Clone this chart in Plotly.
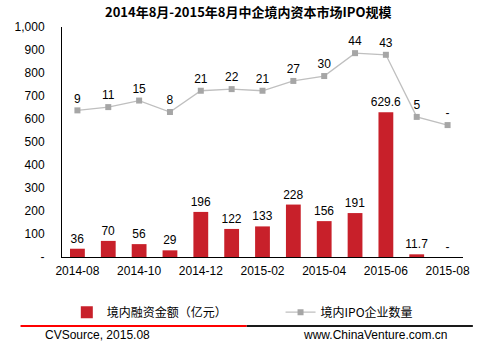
import plotly.graph_objects as go

months = ["2014-08", "2014-09", "2014-10", "2014-11", "2014-12", "2015-01", "2015-02",
          "2015-03", "2015-04", "2015-05", "2015-06", "2015-07", "2015-08"]
funding = [36, 70, 56, 29, 196, 122, 133, 228, 156, 191, 629.6, 11.7, 0]
funding_labels = ["36", "70", "56", "29", "196", "122", "133", "228", "156", "191", "629.6", "11.7", "-"]
ipo_count = [9, 11, 15, 8, 21, 22, 21, 27, 30, 44, 43, 5, 0]
ipo_labels = ["9", "11", "15", "8", "21", "22", "21", "27", "30", "44", "43", "5", "-"]
x_ticktext = ["2014-08", "", "2014-10", "", "2014-12", "", "2015-02", "", "2015-04", "",
              "2015-06", "", "2015-08"]
y_tickvals = [0, 100, 200, 300, 400, 500, 600, 700, 800, 900, 1000]
y_ticktext = ["-", "100", "200", "300", "400", "500", "600", "700", "800", "900", "1,000"]

FONT = "Liberation Sans, Arial, Noto Sans CJK SC, sans-serif"
CJK = "Noto Sans CJK SC, Liberation Sans, sans-serif"

fig = go.Figure()
fig.add_trace(go.Bar(
    x=months, y=funding, name="境内融资金额（亿元）",
    marker=dict(color="#C8202A", line=dict(width=0)),
    width=0.48, legend="legend",
    text=funding_labels, textposition="outside", cliponaxis=False, constraintext="none",
    textfont=dict(size=12, color="#000000", family=FONT),
))
fig.add_trace(go.Scatter(
    x=months, y=ipo_count, name="境内IPO企业数量", yaxis="y2", legend="legend2",
    mode="lines+markers+text",
    line=dict(color="#BFBFBF", width=1.3),
    marker=dict(symbol="square", size=6, color="#A6A6A6"),
    text=ipo_labels, textposition="top center", cliponaxis=False,
    textfont=dict(size=12, color="#000000", family=FONT),
))

legend_common = dict(orientation="h", y=-0.24, xanchor="left", yanchor="middle",
                     bgcolor="rgba(0,0,0,0)", font=dict(family=CJK, size=12), itemwidth=30)

fig.update_layout(
    width=482, height=348,
    margin=dict(l=62, r=14, t=27, b=91),
    paper_bgcolor="white", plot_bgcolor="white",
    font=dict(family=FONT, size=12, color="#000000"),
    title=dict(text="<b>2014年8月-2015年8月中企境内资本市场IPO规模</b>",
               x=0.515, xanchor="center", y=0.965, yanchor="middle",
               font=dict(family=CJK, size=13, color="#000000")),
    xaxis=dict(type="category", tickmode="array", tickvals=months, ticktext=x_ticktext,
               showline=True, linecolor="#000000", linewidth=1, showgrid=False,
               ticks="", tickfont=dict(size=12), range=[-0.5, 12.5], ticklabelstandoff=3),
    yaxis=dict(range=[0, 1000], tickmode="array", tickvals=y_tickvals, ticktext=y_ticktext,
               showline=True, linecolor="#000000", linewidth=1, showgrid=False,
               zeroline=False, ticks="", ticklabelstandoff=14, tickfont=dict(size=12)),
    yaxis2=dict(range=[-80.7, 60], overlaying="y", side="right", visible=False),
    legend=dict(x=0.012, **legend_common),
    legend2=dict(x=0.545, **legend_common),
    showlegend=True,
)

# footer rules and source notes
fig.add_shape(type="line", xref="paper", yref="paper", x0=-0.1034, x1=0.4606, y0=-0.30, y1=-0.30,
              line=dict(color="#FF0000", width=2))
fig.add_shape(type="line", xref="paper", yref="paper", x0=0.4606, x1=1.0246, y0=-0.30, y1=-0.30,
              line=dict(color="#1A1A1A", width=2))
fig.add_annotation(text="CVSource, 2015.08", xref="paper", yref="paper", x=-0.047, y=-0.339,
                   xanchor="left", yanchor="middle", showarrow=False,
                   font=dict(size=12, family=FONT, color="#000000"))
fig.add_annotation(text="www.ChinaVenture.com.cn", xref="paper", yref="paper", x=0.596, y=-0.339,
                   xanchor="left", yanchor="middle", showarrow=False,
                   font=dict(size=12, family=FONT, color="#000000"))

fig.write_html("out.html")
